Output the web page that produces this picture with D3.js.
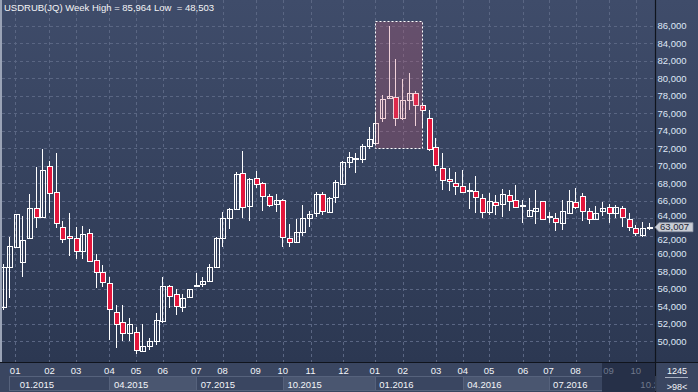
<!DOCTYPE html>
<html><head><meta charset="utf-8">
<script src="https://cdn.jsdelivr.net/npm/d3@7"></script>
<style>html,body{margin:0;padding:0;background:#333f5b;}svg{display:block;}</style>
</head><body>
<svg id="chart" width="698" height="392"></svg>
<script>
// ---- DATA (weekly USDRUB candles, 98 bars) ----
const opens = [53.94,58.44,60.8,59.0,61.74,65.16,64.2,69.95,66.98,63.0,62.0,61.74,60.26,62.31,59.23,57.87,56.61,53.38,52.17,50.91,51.03,48.93,49.5,50.07,52.35,56.3,55.39,53.94,55.02,56.3,56.5,56.91,58.44,61.74,64.02,65.05,69.15,65.46,68.58,68.01,66.56,65.62,66.07,61.74,61.29,62.43,64.02,64.59,66.76,64.78,66.41,67.9,70.4,70.93,70.75,72.26,72.64,75.51,77.78,77.86,75.47,77.56,78.35,76.94,75.4,72.11,69.72,68.5,68.04,67.7,67.1,67.1,66.3,64.78,65.84,65.62,66.64,66.07,65.4,64.32,64.85,65.96,64.2,64.09,63.52,64.59,65.92,66.56,64.89,63.91,64.82,65.31,64.59,65.16,63.98,62.88,62.08,62.95];
const highs = [58.8,61.93,64.5,64.28,66.79,69.9,71.92,70.55,71.5,63.7,64.59,63.07,63.14,62.8,59.95,58.7,57.36,54.14,54.14,52.62,51.67,51.97,50.34,53.26,57.36,56.42,55.93,55.39,56.0,57.82,57.29,58.78,61.86,64.78,65.23,69.3,71.69,68.58,69.41,68.19,66.79,66.79,66.2,63.34,63.91,65.5,64.89,67.02,66.98,66.5,68.39,70.55,71.54,71.5,72.46,74.39,76.18,78.05,85.964,82.2,79.89,80.58,78.54,77.0,76.34,73.14,71.5,69.72,69.3,69.53,68.08,68.84,66.79,66.87,66.68,67.33,67.25,67.78,66.11,66.3,67.25,66.0,64.78,64.66,66.11,67.25,67.44,66.87,65.16,65.42,65.92,65.62,65.5,65.42,64.59,63.26,63.64,63.45];
const lows = [53.6,54.9,60.6,57.36,61.7,62.95,64.1,64.59,62.95,61.17,59.72,59.35,59.35,59.07,56.11,56.2,50.15,49.27,50.07,50.07,48.503,48.82,49.01,49.58,52.12,53.76,53.0,53.38,54.95,56.16,56.22,56.73,58.32,60.72,62.77,65.0,64.09,63.75,67.44,64.89,65.35,64.78,60.79,60.72,61.17,62.0,63.0,64.14,64.36,64.66,65.73,67.85,69.72,69.22,70.29,71.89,72.6,75.0,77.7,74.56,75.28,76.42,74.56,74.45,71.73,69.45,67.25,67.17,66.68,66.94,65.12,64.66,64.02,64.4,64.4,64.21,64.89,65.3,63.45,64.14,63.37,63.8,63.45,62.6,62.69,64.55,65.08,63.75,63.37,63.83,64.32,63.52,64.09,63.07,62.57,62.0,61.92,62.69];
const closes = [58.5,60.86,64.48,61.55,65.16,64.13,69.49,66.87,63.45,61.63,61.74,60.33,62.2,59.19,57.87,56.73,53.65,51.97,50.91,51.97,49.01,49.5,50.03,52.43,56.3,55.2,54.06,54.9,55.93,56.45,56.91,58.44,61.74,64.02,65.05,69.07,65.27,68.47,67.9,66.53,65.5,66.07,61.86,61.29,62.43,64.02,64.48,66.76,64.85,66.37,68.12,70.4,70.97,70.75,72.26,73.03,74.85,77.67,78.01,75.4,77.56,78.35,76.98,76.34,71.89,70.06,68.35,68.24,67.67,67.06,67.2,66.49,64.78,65.99,65.5,66.83,65.96,65.35,65.5,64.97,65.23,63.94,64.3,63.63,64.85,65.99,65.27,64.89,63.91,64.59,65.16,64.59,65.27,64.14,63.0,62.31,62.95,63.007];

const yTicks = [50,52,54,56,58,60,62,64,66,68,70,72,74,76,78,80,82,84,86];
// month ticks: label and bar position (in bar index units)
const monthLabels = ["01","02","03","04","05","06","07","08","09","10","11","12","01","02","03","04","05","06","07","08","09","10"];
const monthPos    = [1.9,7.05,11.05,16.05,20.05,24.05,29.1,33.05,38,42.1,46.25,51.2,55.9,60.1,65.1,69.1,73.05,78.15,82,86.05,91,95.1];
const quarterLabels = ["01.2015","04.2015","07.2015","10.2015","01.2016","04.2016","07.2016","10.2016"];
const quarterPos    = [1.9,16.05,29.1,42.1,55.9,69.1,82,95.1];
const highlightRange = [56, 63]; // bars inside the highlight box
const symbol = "USDRUB(JQ) Week";
const barCount = "1245";
const visibleBars = ">98<";

// ---- LAYOUT ----
const W = 698, H = 392, plotR = 655, plotB = 362;
const svg = d3.select("#chart");
const x = d3.scaleLinear().domain([0, 97]).range([2.5, 648.5]);
const y = d3.scaleLinear().domain([50, 86]).range([341.3, 25.5]);
const fmt = v => v.toFixed(3).replace(".", ",");
const font = "'Liberation Sans', Arial, sans-serif";

const defs = svg.append("defs");
const g1 = defs.append("linearGradient").attr("id","bg").attr("x1",0).attr("y1",0).attr("x2",0).attr("y2",1);
g1.append("stop").attr("offset","0%").attr("stop-color","#3f4c6a");
g1.append("stop").attr("offset","100%").attr("stop-color","#2c3852");
defs.append("clipPath").attr("id","plotclip").append("rect").attr("x",2).attr("y",0).attr("width",plotR-2).attr("height",plotB);
defs.append("clipPath").attr("id","qclip").append("rect").attr("x",0).attr("y",362).attr("width",plotR).attr("height",30);

// backgrounds
svg.append("rect").attr("x",0).attr("y",0).attr("width",W).attr("height",plotB).attr("fill","url(#bg)");
svg.append("rect").attr("x",0).attr("y",plotB).attr("width",W).attr("height",H-plotB).attr("fill","#3a4661");

// gridlines
const grid = svg.append("g").attr("stroke","#5a6683").attr("stroke-width",1).attr("stroke-dasharray","3,3");
grid.selectAll("line.h").data(yTicks).join("line")
  .attr("x1",2).attr("x2",plotR).attr("y1",d=>Math.round(y(d))+0.5).attr("y2",d=>Math.round(y(d))+0.5);
grid.selectAll("line.v").data(monthPos).join("line")
  .attr("y1",0).attr("y2",plotB).attr("x1",d=>Math.round(x(d))+0.5).attr("x2",d=>Math.round(x(d))+0.5);

// candles
const idx = d3.range(opens.length);
const cg = svg.append("g").attr("clip-path","url(#plotclip)");
cg.selectAll("line.wick").data(idx).join("line")
  .attr("x1",i=>Math.round(x(i))+0.5).attr("x2",i=>Math.round(x(i))+0.5)
  .attr("y1",i=>Math.round(y(highs[i]))).attr("y2",i=>Math.round(y(lows[i])))
  .attr("stroke","#ffffff").attr("stroke-width",1);
cg.selectAll("rect.body").data(idx).join("rect")
  .attr("x",i=>Math.round(x(i))-2+0.5).attr("width",5)
  .attr("y",i=>Math.round(y(Math.max(opens[i],closes[i])))+0.5)
  .attr("height",i=>Math.max(1,Math.round(y(Math.min(opens[i],closes[i])))-Math.round(y(Math.max(opens[i],closes[i])))))
  .attr("fill",i=>closes[i]>=opens[i] ? "#34415d" : "#e3163c")
  .attr("fill-opacity",i=>closes[i]>=opens[i] ? 0 : 1)
  .attr("stroke","#ffffff").attr("stroke-width",1);

// highlight box
const hIdx = d3.range(highlightRange[0], highlightRange[1]+1);
const hx0 = x(highlightRange[0]), hx1 = x(highlightRange[1]);
const hy0 = y(d3.max(hIdx, i=>highs[i])) - 5, hy1 = y(d3.min(hIdx, i=>lows[i])) + 5;
svg.append("rect").attr("x",Math.round(hx0)+0.5).attr("y",Math.round(hy0)+0.5)
  .attr("width",Math.round(hx1-hx0)).attr("height",Math.round(hy1-hy0))
  .attr("fill","rgb(205,95,120)").attr("fill-opacity",0.28)
  .attr("stroke","#ffffff").attr("stroke-width",1).attr("stroke-dasharray","2,2");

// left border, separators
svg.append("line").attr("x1",1).attr("x2",1).attr("y1",0).attr("y2",plotB).attr("stroke","#9aa3b6").attr("stroke-width",2);
svg.append("line").attr("x1",plotR+0.5).attr("x2",plotR+0.5).attr("y1",0).attr("y2",H).attr("stroke","#10141d").attr("stroke-width",1.2);
svg.append("line").attr("x1",0).attr("x2",W).attr("y1",plotB+0.5).attr("y2",plotB+0.5).attr("stroke","#10141d").attr("stroke-width",1.2);

// right axis labels (the two next to the price marker are nudged apart from it)
const last = closes[closes.length-1];
const ly = y(last);
const nudge = d => { const dy = y(d) - ly; if (Math.abs(dy) < 12) return dy < 0 ? -3 : 3; return 0; };
const ra = svg.append("g").attr("font-family",font).attr("font-size",9.5).attr("fill","#dfe7f6");
ra.selectAll("text").data(yTicks).join("text")
  .attr("x",657.5).attr("y",d=>y(d)+3.5+nudge(d)).text(d=>fmt(d));

// current price marker
svg.append("path").attr("d",`M655,${ly} L659,${ly-4.5} L693,${ly-4.5} L693,${ly+4.5} L659,${ly+4.5} Z`)
  .attr("fill","#c9cdd5").attr("stroke","#8b93a3").attr("stroke-width",0.8);
svg.append("text").attr("x",660).attr("y",ly+3.3).attr("font-family",font).attr("font-size",9.5)
  .attr("fill","#1b2333").text(fmt(last));

// bottom: quarter boxes
const bx = svg.append("g");
const qEdges = quarterPos.map(p=>Math.round(x(p))+0.5);
qEdges.forEach((e,k)=>{
  const start = k === 0 ? 9.5 : e;
  const end = k < qEdges.length-1 ? qEdges[k+1] : plotR;
  bx.append("rect").attr("x",start).attr("y",376.5).attr("width",end-start).attr("height",14)
    .attr("fill", k%2===1 ? "#4a5670" : "#3a4661").attr("stroke","#56627c").attr("stroke-width",1);
});
// dim overlay for trailing region
svg.append("rect").attr("x",602).attr("y",plotB+1).attr("width",plotR-602).attr("height",H-plotB-1).attr("fill","#263048");

const ml = svg.append("g").attr("font-family",font).attr("font-size",9.5).attr("text-anchor","middle");
ml.selectAll("text").data(monthLabels).join("text")
  .attr("x",(d,i)=>x(monthPos[i])).attr("y",374)
  .attr("fill",(d,i)=>x(monthPos[i])>602 ? "#6f788c" : "#f2f4f8").text(d=>d);
const ql = svg.append("g").attr("font-family",font).attr("font-size",9.5).attr("clip-path","url(#qclip)");
ql.selectAll("text").data(quarterLabels).join("text")
  .attr("x",(d,i)=>x(quarterPos[i])+4.5).attr("y",387.5)
  .attr("fill",(d,i)=>x(quarterPos[i])>602 ? "#6f788c" : "#f2f4f8")
  .text(d=>d)
  .each(function(){ // truncate a label that would run well past the price-axis edge (clipped there)
    const t = d3.select(this); let s = t.text();
    while (s.length > 1 && this.getComputedTextLength() + (+t.attr("x")) > plotR + 5) { s = s.slice(0,-1); t.text(s); }
  });

// right-bottom info box
svg.append("text").attr("x",677).attr("y",374).attr("text-anchor","middle").attr("font-family",font).attr("font-size",9).attr("fill","#f2f4f8").text(barCount);
svg.append("line").attr("x1",665).attr("x2",688).attr("y1",377.5).attr("y2",377.5).attr("stroke","#aab2c2").attr("stroke-width",1);
svg.append("text").attr("x",677).attr("y",389.5).attr("text-anchor","middle").attr("font-family",font).attr("font-size",9).attr("fill","#f2f4f8").text(visibleBars);

// title
const hi = d3.max(highs), lo = d3.min(lows);
svg.append("text").attr("x",4).attr("y",11).attr("font-family",font).attr("font-size",9.5)
  .attr("fill","#f4f4f6").attr("xml:space","preserve")
  .text(`${symbol} High = ${fmt(hi)} Low  = ${fmt(lo)}`);
</script>
</body></html>
